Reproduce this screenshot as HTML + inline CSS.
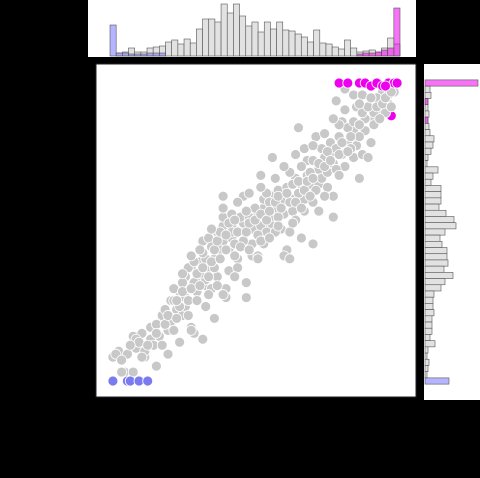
<!DOCTYPE html>
<html><head><meta charset="utf-8"><style>
html,body{margin:0;padding:0;background:#000;width:480px;height:478px;overflow:hidden;font-family:"Liberation Sans",sans-serif}
</style></head><body>
<svg id="chart" width="480" height="478" viewBox="0 0 480 478" xmlns="http://www.w3.org/2000/svg">
<rect x="0" y="0" width="480" height="478" fill="#000"/>
<rect x="88" y="0" width="328" height="57" fill="#fff"/>
<rect x="424" y="64" width="56" height="336" fill="#fff"/>
<rect x="96" y="64" width="320" height="333" fill="#fff" stroke="#222"/>
<g id="topHist"></g>
<g id="rightHist"></g>
<g id="points"></g>
</svg>
<script>
const grayPts=[[0.01,0.08],[0.05,0.03],[0.08,0.03],[0.03,0.10],[0.06,0.09],[0.09,0.11],[0.12,0.08],[0.16,0.05],[0.08,0.15],[0.11,0.16],[0.14,0.14],[0.17,0.15],[0.20,0.09],[0.14,0.18],[0.18,0.21],[0.21,0.19],[0.24,0.13],[0.28,0.18],[0.32,0.14],[0.29,0.16],[0.23,0.24],[0.21,0.27],[0.24,0.30],[0.26,0.28],[0.22,0.31],[0.26,0.35],[0.28,0.38],[0.30,0.33],[0.33,0.25],[0.36,0.21],[0.33,0.32],[0.31,0.40],[0.34,0.38],[0.37,0.35],[0.40,0.31],[0.40,0.28],[0.36,0.41],[0.32,0.47],[0.34,0.48],[0.39,0.47],[0.38,0.44],[0.41,0.44],[0.44,0.41],[0.44,0.38],[0.47,0.33],[0.47,0.28],[0.42,0.48],[0.39,0.52],[0.39,0.55],[0.42,0.56],[0.42,0.52],[0.46,0.51],[0.46,0.47],[0.49,0.42],[0.51,0.42],[0.49,0.46],[0.53,0.46],[0.49,0.51],[0.53,0.52],[0.51,0.56],[0.50,0.58],[0.53,0.58],[0.56,0.55],[0.56,0.52],[0.59,0.51],[0.62,0.50],[0.66,0.48],[0.70,0.46],[0.61,0.44],[0.60,0.42],[0.62,0.41],[0.60,0.56],[0.63,0.57],[0.64,0.54],[0.67,0.57],[0.60,0.61],[0.63,0.61],[0.67,0.61],[0.70,0.60],[0.72,0.57],[0.77,0.55],[0.77,0.62],[0.56,0.62],[0.53,0.61],[0.46,0.62],[0.39,0.62],[0.52,0.69],[0.56,0.75],[0.65,0.85],[0.64,0.68],[0.66,0.66],[0.69,0.66],[0.72,0.66],[0.68,0.69],[0.68,0.74],[0.72,0.71],[0.73,0.68],[0.71,0.82],[0.73,0.78],[0.77,0.77],[0.77,0.73],[0.81,0.72],[0.79,0.82],[0.82,0.80],[0.80,0.87],[0.84,0.84],[0.85,0.79],[0.84,0.75],[0.87,0.76],[0.90,0.80],[0.89,0.75],[0.86,0.68],[0.88,0.84],[0.90,0.88],[0.93,0.91],[0.96,0.93],[0.98,0.97],[0.94,0.97],[0.78,0.94],[0.81,0.98],[0.84,0.96],[0.87,0.96],[0.85,0.92],[0.82,0.85],[0.76,0.80],[0.79,0.86],[0.02,0.09],[0.06,0.09],[0.12,0.10],[0.11,0.08],[0.04,0.03],[0.09,0.14],[0.14,0.18],[0.17,0.15],[0.18,0.22],[0.21,0.20],[0.25,0.22],[0.28,0.17],[0.22,0.27],[0.26,0.25],[0.29,0.33],[0.27,0.38],[0.29,0.40],[0.33,0.34],[0.35,0.31],[0.39,0.29],[0.33,0.41],[0.40,0.44],[0.43,0.42],[0.41,0.37],[0.44,0.38],[0.42,0.50],[0.46,0.47],[0.51,0.41],[0.46,0.53],[0.49,0.51],[0.52,0.52],[0.54,0.50],[0.50,0.58],[0.53,0.61],[0.54,0.63],[0.57,0.58],[0.58,0.64],[0.61,0.65],[0.65,0.63],[0.62,0.70],[0.66,0.72],[0.70,0.74],[0.74,0.75],[0.75,0.70],[0.78,0.78],[0.80,0.76],[0.83,0.78],[0.86,0.82],[0.88,0.88],[0.91,0.90],[0.95,0.90],[0.92,0.95],[0.96,0.96],[0.35,0.45],[0.37,0.50],[0.31,0.36],[0.27,0.31],[0.19,0.24],[0.16,0.19],[0.24,0.25],[0.30,0.30],[0.45,0.55],[0.48,0.55],[0.55,0.60],[0.58,0.55],[0.43,0.46],[0.36,0.38],[0.32,0.43],[0.25,0.33],[0.15,0.12],[0.10,0.13],[0.20,0.17],[0.69,0.70],[0.75,0.65],[0.62,0.60],[0.57,0.50],
[0.13,0.12],[0.16,0.16],[0.19,0.19],[0.20,0.22],[0.23,0.21],[0.23,0.27],[0.25,0.30],[0.27,0.27],[0.28,0.31],[0.30,0.36],[0.31,0.32],[0.32,0.38],[0.34,0.35],[0.35,0.40],[0.36,0.44],[0.37,0.47],[0.38,0.41],[0.38,0.50],[0.40,0.49],[0.41,0.53],[0.43,0.54],[0.44,0.50],[0.45,0.45],[0.47,0.50],[0.47,0.57],[0.48,0.53],[0.50,0.54],[0.51,0.49],[0.52,0.56],[0.54,0.54],[0.55,0.57],[0.57,0.60],[0.58,0.62],[0.59,0.58],[0.61,0.63],[0.63,0.66],[0.64,0.60],[0.65,0.67],[0.67,0.64],[0.68,0.67],[0.70,0.68],[0.71,0.64],[0.72,0.73],[0.74,0.72],[0.75,0.77],[0.76,0.74],[0.78,0.71],[0.79,0.76],[0.80,0.80],[0.82,0.77],[0.83,0.82],[0.84,0.87],[0.86,0.86],[0.87,0.90],[0.89,0.92],[0.91,0.86],[0.92,0.92],[0.94,0.93],[0.95,0.95],[0.97,0.92],[0.30,0.27],[0.27,0.22],[0.22,0.17],[0.18,0.12],[0.07,0.12],[0.04,0.07],[0.34,0.29],[0.37,0.32],[0.43,0.35],[0.48,0.44],[0.52,0.47],[0.55,0.48],[0.58,0.52],[0.63,0.53],[0.66,0.58],[0.69,0.62],[0.74,0.62],[0.79,0.69],[0.25,0.36],[0.28,0.42],[0.31,0.44],[0.35,0.51],[0.39,0.58],[0.44,0.60],[0.48,0.63],[0.52,0.65],[0.57,0.68],[0.60,0.72],[0.64,0.76],[0.67,0.78],[0.70,0.79],[0.74,0.83],[0.77,0.88],[0.81,0.91],[0.86,0.93],[0.90,0.95],[0.93,0.88],[0.97,0.97]];
const bluePts=[[0.01,0.0],[0.06,0.0],[0.07,0.0],[0.10,0.0],[0.13,0.0]];
const magentaPts=[[0.79,1.0],[0.82,1.0],[0.86,1.0],[0.88,1.0],[0.90,0.99],[0.92,1.0],[0.94,0.99],[0.96,1.0],[0.98,1.0],[0.99,1.0],[0.85,0.82],[0.97,0.89],[0.95,0.99]];
const topGray=[0,3,4,8,4,4,8,9,10,14,16,12,17,13,27,37,37,34,52,43,52,40,30,34,24,34,27,34,26,25,22,19,14,26,13,12,9,7,16,8,4,5,6,4,8,18,12];
const topBlue=[31,3,3,2,2,2,3,3,3];
const topMagenta=[0,0,0,0,0,0,0,0,0,0,0,0,0,0,0,0,0,0,0,0,0,0,0,0,0,0,0,0,0,0,0,0,0,0,0,0,0,0,0,0,2,3,3,4,6,8,48];
const rightGray=[0,5,6,3,3,4,3,4,5,9,8,6,3,2,13,8,6,16,16,16,14,21,29,31,20,15,17,22,22,23,19,28,20,16,9,8,8,9,7,7,7,5,10,3,2,4,3,2,0];
const rightMagenta=[53,0,0,3,0,0,3];
const rightBlue=[0,0,0,0,0,0,0,0,0,0,0,0,0,0,0,0,0,0,0,0,0,0,0,0,0,0,0,0,0,0,0,0,0,0,0,0,0,0,0,0,0,0,0,0,0,0,0,0,24];
const NS='http://www.w3.org/2000/svg';
function xs(v){return 110+v*290;}
function ys(v){return 381-v*298;}
function mk(t,a){const e=document.createElementNS(NS,t);for(const k in a)e.setAttribute(k,a[k]);return e;}
const gP=document.getElementById('points');
function drawPts(arr,fill,name){arr.forEach(p=>{const c=mk('circle',{cx:xs(p[0]),cy:ys(p[1]),r:5,fill:fill,stroke:'#fff','stroke-width':0.8});


gP.appendChild(c);});}
drawPts(magentaPts.slice(10,12),'#ee00ee','magenta-point');
drawPts(grayPts,'#c8c8c8','gray-point');
drawPts(bluePts,'#7b7bf0','blue-point');
drawPts(magentaPts.slice(0,10).concat(magentaPts.slice(12)),'#ee00ee','magenta-point');
const gT=document.getElementById('topHist');
const nT=topGray.length,bw=290/nT;
function drawTop(arr,fill,name){arr.forEach((h,i)=>{if(!h)return;const r=mk('rect',{x:110+i*bw,y:56-h,width:bw,height:h,fill:fill,stroke:'#555','stroke-width':0.6});


gT.appendChild(r);});}
drawTop(topGray,'#e2e2e2','top-bar-gray');
drawTop(topBlue,'rgba(120,120,255,0.55)','top-bar-blue');
drawTop(topMagenta,'rgba(238,0,238,0.55)','top-bar-magenta');
const gR=document.getElementById('rightHist');
const nR=rightGray.length,bh=298/(nR-1);
function drawRight(arr,fill,name){arr.forEach((w,i)=>{if(!w)return;const r=mk('rect',{x:425,y:83+i*bh-bh/2,width:w,height:bh,fill:fill,stroke:'#555','stroke-width':0.6});


gR.appendChild(r);});}
drawRight(rightGray,'#e2e2e2','right-bar-gray');
drawRight(rightMagenta,'rgba(238,0,238,0.55)','right-bar-magenta');
drawRight(rightBlue,'rgba(120,120,255,0.55)','right-bar-blue');
</script>
</body></html>
